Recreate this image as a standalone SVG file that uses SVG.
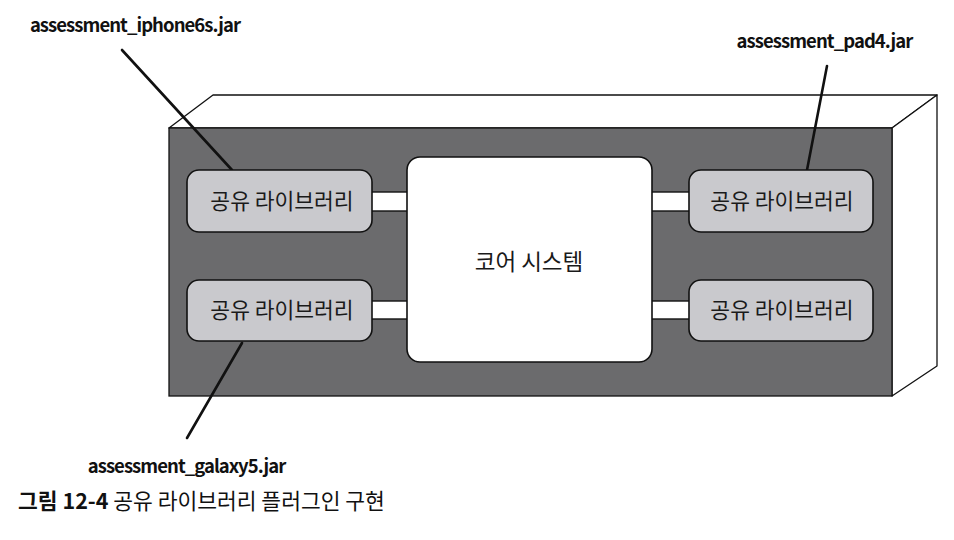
<svg xmlns="http://www.w3.org/2000/svg" width="954" height="540" viewBox="0 0 954 540">
<style>
.lbl{font-family:"Noto Sans CJK KR","Liberation Sans",sans-serif;font-size:18.5px;font-weight:700;fill:#111;letter-spacing:-0.95px}
.kr{font-family:"Noto Sans CJK KR",sans-serif;font-size:21.5px;fill:#1a1a1a}
.lib{fill:#c9c9cd;stroke:#111;stroke-width:1.6}
.bar{fill:#fff;stroke:#111;stroke-width:1.4}
.face{fill:#fff;stroke:#111;stroke-width:1.3;stroke-linejoin:round}
.lead{stroke:#111;stroke-width:2.6;fill:none;stroke-linecap:round}
</style>
<rect width="954" height="540" fill="#fff"/>
<g id="box">
<polygon class="face" points="169,128 213,95 937,95 892,128"/>
<polygon class="face" points="892,128 937,95 937,366 892,396"/>
<rect x="169" y="128" width="723" height="268" fill="#6b6b6d" stroke="#111" stroke-width="1.3"/>
</g>
<g id="connectors">
<rect class="bar" x="370" y="192" width="40" height="19"/>
<rect class="bar" x="370" y="301" width="40" height="18"/>
<rect class="bar" x="650" y="192" width="41" height="19"/>
<rect class="bar" x="650" y="301" width="41" height="18"/>
<line class="lead" x1="122" y1="50" x2="232" y2="170"/>
<line class="lead" x1="827" y1="66" x2="807" y2="170"/>
<line class="lead" x1="242" y1="343" x2="187" y2="438"/>
</g>
<g id="core">
<rect x="407" y="157" width="245" height="205" rx="13" fill="#fff" stroke="#111" stroke-width="1.6"/>
<text class="kr" x="529" y="270" text-anchor="middle" style="font-size:22.5px">코어 시스템</text>
</g>
<g id="lib-tl">
<rect class="lib" x="187" y="170" width="185" height="62" rx="12"/>
<text class="kr" x="282" y="209" text-anchor="middle">공유 라이브러리</text>
</g>
<g id="lib-bl">
<rect class="lib" x="187" y="280" width="185" height="61" rx="12"/>
<text class="kr" x="282" y="318" text-anchor="middle">공유 라이브러리</text>
</g>
<g id="lib-tr">
<rect class="lib" x="689" y="170" width="184" height="62" rx="12"/>
<text class="kr" x="782" y="209" text-anchor="middle">공유 라이브러리</text>
</g>
<g id="lib-br">
<rect class="lib" x="689" y="280" width="184" height="61" rx="12"/>
<text class="kr" x="782" y="318" text-anchor="middle">공유 라이브러리</text>
</g>
<g id="labels">
<text class="lbl" x="135" y="32" text-anchor="middle">assessment_iphone6s.jar</text>
<text class="lbl" x="824.5" y="48" text-anchor="middle">assessment_pad4.jar</text>
<text class="lbl" x="186.5" y="473" text-anchor="middle">assessment_galaxy5.jar</text>
</g>
<g id="caption">
<text x="18" y="509" style="font-family:'Noto Sans CJK KR',sans-serif;font-size:21.5px;fill:#111"><tspan font-weight="bold">그림 12-4</tspan> 공유 라이브러리 플러그인 구현</text>
</g>
</svg>
